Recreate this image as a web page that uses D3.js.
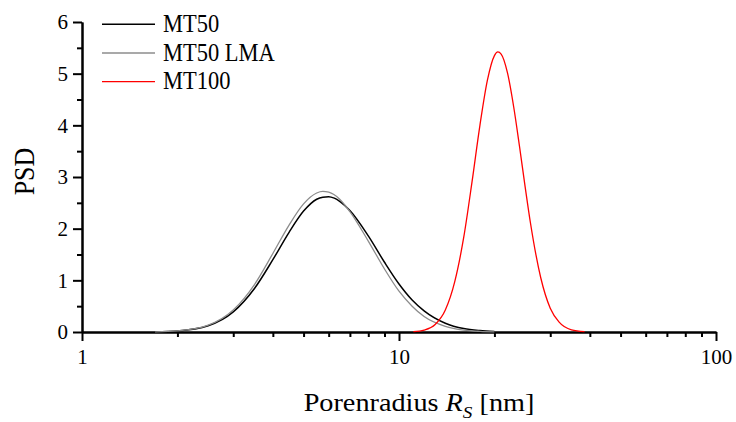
<!DOCTYPE html>
<html lang="en">
<head>
<meta charset="utf-8">
<title>PSD</title>
<script src="https://cdn.jsdelivr.net/npm/d3@7"></script>
<style>
  body { margin: 0; background: #fff; }
  text { font-family: "Liberation Serif", "Times New Roman", serif; fill: #000; }
  .axis path, .axis line { stroke: #000; stroke-width: 2px; }
  .axis text { font-size: 21px; font-family: "Liberation Serif", "Times New Roman", serif; }
</style>
</head>
<body>
<script>
// pore radius [nm] and PSD
var mt50X = [1.7, 2, 2.5, 3, 3.5, 4, 4.5, 5, 5.5, 5.75, 6, 6.25, 6.5, 7, 8, 9, 10, 11, 12, 14, 16, 18, 20];
var mt50Y = [0.003, 0.02, 0.121, 0.389, 0.842, 1.40, 1.93, 2.34, 2.57, 2.61, 2.62, 2.59, 2.53, 2.35, 1.86, 1.35, 0.93, 0.62, 0.41, 0.17, 0.066, 0.027, 0.01];

var lmaX = [1.7, 2, 2.5, 3, 3.5, 4, 4.5, 5, 5.5, 5.75, 6, 6.5, 7, 8, 9, 10, 11, 12, 14, 16, 18, 20];
var lmaY = [0.003, 0.021, 0.132, 0.426, 0.919, 1.52, 2.07, 2.48, 2.69, 2.72, 2.705, 2.57, 2.33, 1.76, 1.22, 0.79, 0.50, 0.30, 0.11, 0.037, 0.013, 0.004];

var mt100X = [11.1, 12, 13, 14, 15, 16, 17, 18, 19, 20, 20.5, 21, 22, 23, 24, 25, 26, 28, 30, 32, 35, 38.5];
var mt100Y = [0.006, 0.037, 0.145, 0.426, 0.98, 1.83, 2.91, 4.00, 4.87, 5.35, 5.42, 5.38, 5.01, 4.36, 3.59, 2.81, 2.10, 1.05, 0.46, 0.19, 0.041, 0.006];

var seriesNames = ["MT50", "MT50 LMA", "MT100"];
var seriesColors = ["#000000", "#8c8c8c", "#ff0000"];
var seriesWidths = [1.5, 1.3, 1.3];

var xMajor = [1, 10, 100];
var xMinor = [2, 3, 4, 5, 6, 7, 8, 9, 20, 30, 40, 50, 60, 70, 80, 90];
var yMajor = [0, 1, 2, 3, 4, 5, 6];
var yMinor = [0.5, 1.5, 2.5, 3.5, 4.5, 5.5];

var w = 736, h = 422;
var x = d3.scaleLog().domain([1, 100]).range([82, 716]);
var y = d3.scaleLinear().domain([0, 6]).range([332, 22]);

var svg = d3.select("body").append("svg").attr("width", w).attr("height", h);

function zip(xs, ys) { return xs.map(function(v, i) { return [v, ys[i]]; }); }
var series = [zip(mt50X, mt50Y), zip(lmaX, lmaY), zip(mt100X, mt100Y)];

// axes
svg.append("g").attr("class", "axis").attr("transform", "translate(0,332)")
   .call(d3.axisBottom(x).tickValues(xMinor).tickSize(5).tickSizeOuter(0).tickFormat(""));
svg.append("g").attr("class", "axis").attr("transform", "translate(0,332)")
   .call(d3.axisBottom(x).tickValues(xMajor).tickSize(9).tickSizeOuter(0).tickFormat(d3.format("d")))
   .call(function(g) { g.selectAll("text").attr("dy", null).attr("y", 32); });

svg.append("g").attr("class", "axis").attr("transform", "translate(82,0)")
   .call(d3.axisLeft(y).tickValues(yMinor).tickSize(5).tickSizeOuter(0).tickFormat(""));
svg.append("g").attr("class", "axis").attr("transform", "translate(82,0)")
   .call(d3.axisLeft(y).tickValues(yMajor).tickSize(9).tickSizeOuter(0).tickFormat(d3.format("d")))
   .call(function(g) { g.selectAll("text").attr("x", -14); });

// curves
var line = d3.line().x(function(d) { return x(d[0]); }).y(function(d) { return y(d[1]); })
   .curve(d3.curveMonotoneX);

svg.append("g").selectAll("path").data(series).enter().append("path")
   .attr("d", line)
   .attr("fill", "none")
   .attr("stroke", function(d, i) { return seriesColors[i]; })
   .attr("stroke-width", function(d, i) { return seriesWidths[i]; });

// legend
var leg = svg.append("g").selectAll("g").data(seriesNames).enter().append("g")
   .attr("transform", function(d, i) { return "translate(102," + (24.3 + i * 28.7) + ")"; });
leg.append("line").attr("x1", 0).attr("x2", 53).attr("y1", 0).attr("y2", 0)
   .attr("stroke", function(d, i) { return seriesColors[i]; })
   .attr("stroke-width", function(d, i) { return seriesWidths[i]; });
leg.append("text").attr("transform", "translate(61,7.5) scale(1,1.15)")
   .style("font-size", "22.5px").text(function(d) { return d; });

// axis titles
svg.append("text").attr("transform", "translate(34,171.5) rotate(-90) scale(1,1.12)")
   .attr("text-anchor", "middle").style("font-size", "26px").text("PSD");

var xt = svg.append("text").attr("transform", "translate(419,411) scale(1.13,1)")
   .attr("text-anchor", "middle").style("font-size", "25px");
xt.append("tspan").text("Porenradius ");
xt.append("tspan").style("font-style", "italic").text("R");
xt.append("tspan").style("font-style", "italic").style("font-size", "17px").attr("dy", 7).text("S");
xt.append("tspan").attr("dy", -7).text(" [nm]");
</script>
</body>
</html>
